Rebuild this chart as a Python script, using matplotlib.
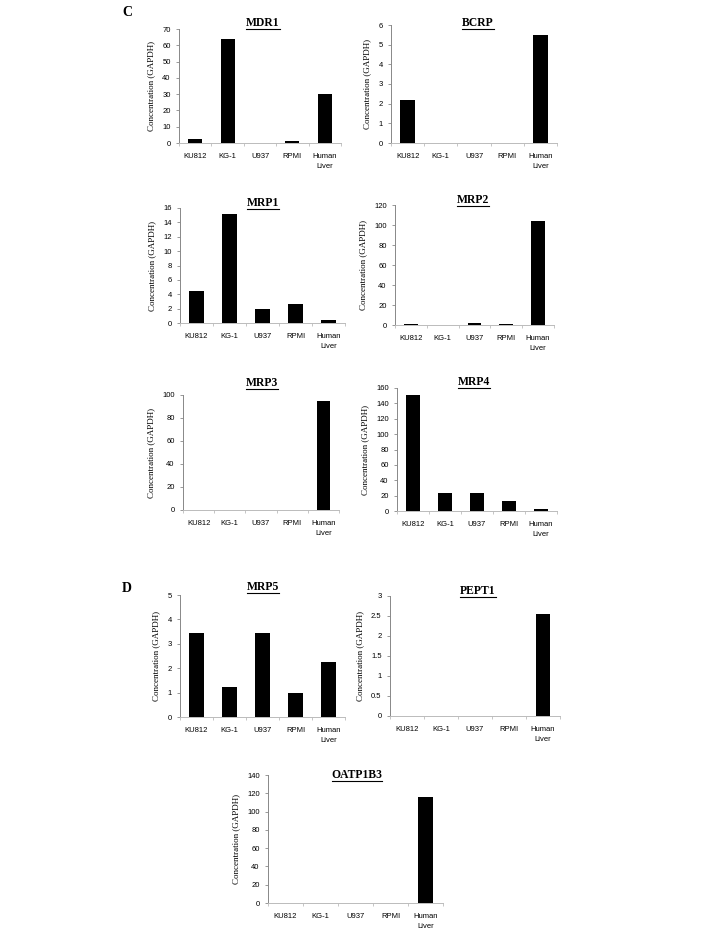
import numpy as np
import matplotlib
matplotlib.use("Agg")
import matplotlib.pyplot as plt
from matplotlib.lines import Line2D

# cell lines on the x axis
cells = ["KU812", "KG-1", "U937", "RPMI", "Human\nLiver"]

# values
mdr1 = [2.3, 64, 0, 1.0, 30]
bcrp = [2.2, 0, 0, 0, 5.5]
mrp1 = [4.4, 15.1, 1.9, 2.7, 0.4]
mrp2 = [1.0, 0, 2.2, 1.0, 104]
mrp3 = [0, 0, 0, 0, 95]
mrp4 = [151, 23, 24, 13, 3]
mrp5 = [3.45, 1.22, 3.45, 1.0, 2.27]
pept1 = [0, 0, 0, 0, 2.55]
oatp1b3 = [0, 0, 0, 0, 116]

W, H = 708, 935
fig = plt.figure(figsize=(W / 100, H / 100), dpi=100)

serif = "Liberation Serif"
sans = "Liberation Sans"

# (name, data, ymax, ystep, x0, x1, ytop, ybot, title_x, title_y)
panels = [
    ("MDR1", mdr1, 70, 10, 179, 341, 29, 143, 263, 23),
    ("BCRP", bcrp, 6, 1, 391, 557, 25, 143, 478, 23),
    ("MRP1", mrp1, 16, 2, 180, 345, 208, 323, 263, 203),
    ("MRP2", mrp2, 120, 20, 395, 554, 205, 325, 473, 200),
    ("MRP3", mrp3, 100, 20, 183, 339, 395, 510, 262, 383),
    ("MRP4", mrp4, 160, 20, 397, 557, 388, 511, 474, 382),
    ("MRP5", mrp5, 5, 1, 180, 345, 595, 717, 263, 587),
    ("PEPT1", pept1, 3, 0.5, 390, 560, 596, 716, 478, 591),
    ("OATP1B3", oatp1b3, 140, 20, 268, 443, 775, 903, 357, 775),
]

titles = []
for name, vals, ymax, ystep, x0, x1, yt, yb, tx, ty in panels:
    ax = fig.add_axes([x0 / W, 1 - yb / H, (x1 - x0) / W, (yb - yt) / H])
    x = np.arange(len(cells))
    ax.bar(x, vals, width=0.43, color="black")
    ax.set_xlim(-0.5, len(cells) - 0.5)
    ax.set_ylim(0, ymax)
    ticks = np.arange(0, ymax + ystep / 2, ystep)
    ax.set_yticks(ticks)
    ax.set_yticklabels([("%g" % t) for t in ticks], fontsize=5.5, family=sans)
    ax.set_xticks(x)
    ax.set_xticklabels(cells, fontsize=5.5, family=sans, linespacing=1.7)
    ax.set_xticks(np.arange(-0.5, len(cells)), minor=True)
    ax.tick_params(axis="x", which="major", length=0, pad=7)
    ax.tick_params(axis="x", which="minor", length=2.5, color="#bbbbbb", direction="out")
    ax.tick_params(axis="y", length=2, width=0.6, color="#888888", pad=4)
    for s in ["top", "right"]:
        ax.spines[s].set_visible(False)
    ax.spines["bottom"].set_color("#bbbbbb")
    ax.spines["left"].set_color("#888888")
    ax.spines["left"].set_linewidth(0.7)
    ax.spines["bottom"].set_linewidth(0.7)
    ax.set_ylabel("Concentration (GAPDH)", fontsize=6.5, family=serif, labelpad=5)
    t = fig.text(tx / W, 1 - ty / H, name, fontsize=8.4, fontweight="bold",
                 family=serif, ha="center", va="center")
    titles.append(t)

fig.text(127 / W, 1 - 13 / H, "C", fontsize=10, fontweight="bold", family=serif,
         ha="center", va="center")
fig.text(127 / W, 1 - 589 / H, "D", fontsize=10, fontweight="bold", family=serif,
         ha="center", va="center")

# underline the titles
fig.canvas.draw()
r = fig.canvas.get_renderer()
for t in titles:
    bb = t.get_window_extent(r).transformed(fig.transFigure.inverted())
    fig.add_artist(Line2D([bb.x0, bb.x1], [bb.y0 + 0.0005, bb.y0 + 0.0005],
                          transform=fig.transFigure, color="black", linewidth=0.8))

fig.savefig("out.png", dpi=100)
